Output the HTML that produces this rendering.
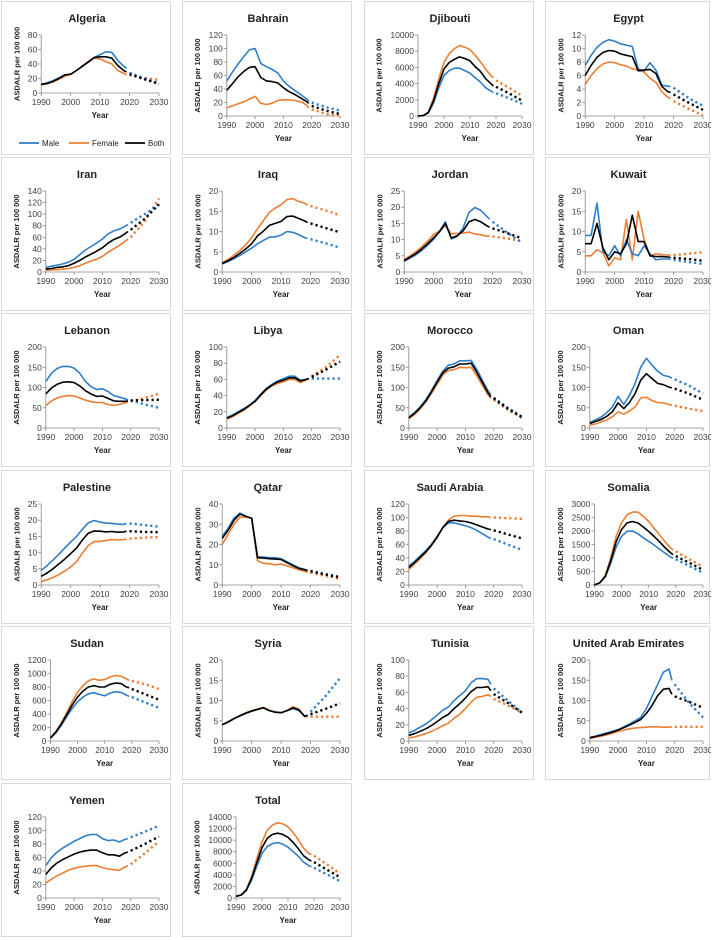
<!DOCTYPE html>
<html><head><meta charset="utf-8">
<style>
body{margin:0;width:716px;height:940px;background:#fff;position:relative;overflow:hidden;font-family:"Liberation Sans",sans-serif}
.panel{position:absolute;background:#fff;border:1px solid #d9d9d9;box-sizing:border-box}
.panel svg{position:absolute;left:0;top:0}
</style></head>
<body>
<script>
const countries=["Algeria","Bahrain","Djibouti","Egypt","Iran","Iraq","Jordan","Kuwait","Lebanon","Libya","Morocco","Oman","Palestine","Qatar","Saudi Arabia","Somalia","Sudan","Syria","Tunisia","United Arab Emirates","Yemen","Total"];
const histYears=[1990,1992,1994,1996,1998,2000,2002,2004,2006,2008,2010,2012,2014,2016,2018,2019];
const projYears=[2020,2025,2030];
const yMax=[80,120,10000,12,140,20,25,20,200,100,200,200,25,40,120,3000,1200,20,100,200,120,14000];
const yStep=[20,20,2000,2,20,5,5,5,50,20,50,50,5,10,20,500,200,5,20,50,20,2000];
const xTicks=[1990,2000,2010,2020,2030];
const maleHist=[
[12,14,17,21,25,26,31,37,43,49,53,57,56,45,37,34],
[52,65,77,88,98,100,78,73,69,64,52,44,38,32,26,22],
[0,50,400,1600,3500,5000,5600,5900,5900,5600,5300,4700,4200,3500,3100,2900],
[7.5,9,10.2,10.9,11.3,11.1,10.7,10.5,10.3,7,6.7,7.9,6.8,4.6,4.4,4.4],
[8,10,12,14,17,22,30,38,44,50,57,66,71,74,79,82],
[2,2.6,3.3,4.1,5,5.9,7,7.8,8.6,8.7,9.1,10,9.8,9.2,8.5,8.3],
[3.3,4.3,5.3,6.7,8.3,10.1,12.6,15.5,10.2,11,13.6,18.4,19.9,19,17.2,16.3],
[9,9,17,5,4,6.5,4,8,4.5,4,6.5,4.5,3,3.2,3.2,3.1],
[115,135,147,152,152,148,135,115,102,95,97,90,80,76,72,70],
[13,16,20,24,28,34,42,49,54,58,61,64,64,59,60,61],
[27,38,52,70,92,117,140,155,158,166,166,167,145,118,92,82],
[14,20,27,38,52,78,58,80,110,150,172,155,140,130,127,123],
[4.5,6,7.7,9.5,11.4,13.3,15,17.2,19.2,19.9,19.4,19.1,19,18.8,18.7,19],
[24,28,33,35.5,34,33,14,13.8,13.5,13.5,13,11.5,10,8.5,7.7,7.3],
[28,35,43,51,60,72,85,92,92,90,88,85,81,76,71,69],
[0,80,300,800,1400,1800,1990,2000,1900,1750,1620,1480,1330,1180,1040,990],
[40,120,230,360,480,580,650,700,715,690,670,710,730,720,680,660],
[4,4.7,5.5,6.2,6.8,7.3,7.8,8.2,7.5,7.1,7,7.5,8,7.5,6.1,6.5],
[10,13,17,21,26,32,38,42,50,56,62,72,77,77,76,70],
[9,12,16,20,24,28,35,42,50,58,80,110,140,170,178,150],
[48,60,68,74,79,84,88,92,94,94,88,85,86,83,87,88],
[300,500,1300,3100,5500,7700,8900,9400,9600,9300,8800,8000,7200,6200,5600,5400]];
const femaleHist=[
[11,13,15,19,23,26,31,37,42,48,47,43,40,31,27,25],
[12,15,18,21,25,29,19,17,19,23,24,24,23,21,17,12],
[0,50,500,2200,4600,6600,7700,8300,8700,8500,8200,7500,6700,5800,5000,4700],
[4.7,6,7,7.7,8,7.9,7.6,7.4,7.0,6.8,6.5,5.6,5.0,3.6,2.8,2.6],
[3,4,4,5,6,8,11,15,19,22,27,34,40,46,53,57],
[2.3,3.1,4.1,5.3,6.7,8.5,10.7,12.7,14.7,15.8,16.6,17.9,18.1,17.4,17,16.5],
[3.9,5,6.3,7.8,9.6,11.6,12.7,14.3,11.8,11.9,12,12.3,11.7,11.5,11,11.2],
[4,4,5.5,4.8,1.5,3.5,3,13,3,15,8,4,4.5,4.3,4.2,4.2],
[55,67,74,78,80,79,74,69,65,63,63,58,56,58,62,64],
[11,14,18,22,27,33,40,47,52,55,57,60,60,56,59,61],
[23,33,47,64,85,108,131,142,144,150,149,150,130,105,82,73],
[7,10,15,20,28,40,34,42,52,74,76,68,63,62,58,56],
[1,1.6,2.3,3.2,4.3,5.6,7.2,9.8,12.2,13.4,13.5,13.7,14,13.9,14,14.2],
[20,25,30,33.5,33.5,33,12,10.7,10.5,10,10.3,9.5,8.5,7.5,6.8,6.3],
[23,31,39,48,58,70,85,96,102,103,103,102,102,101,101,100],
[0,80,350,1000,1800,2300,2600,2700,2700,2550,2350,2100,1850,1600,1380,1300],
[50,140,270,420,580,720,820,890,920,900,910,950,970,960,920,900],
[4,4.8,5.6,6.3,7,7.5,7.9,8.3,7.6,7.2,7,7.5,8.5,7.9,6,6.1],
[4,5,7,9,12,15,19,22,28,33,40,48,54,55,57,55],
[6,9,12,15,19,24,27,30,32,33,34,35,35,34,34,35],
[22,28,33,37,41,44,46,47,48,48,45,43,42,41,46,48],
[300,550,1500,3700,6800,9700,11700,12600,13000,12800,12300,11300,10000,8600,7700,7500]];
const bothHist=[
[12,13,16,20,25,26,31,37,43,49,50,50,48,38,31,29],
[38,48,58,66,72,73,57,52,51,49,42,36,32,27,22,19],
[0,50,450,1900,4000,5800,6600,7000,7300,7100,6800,6100,5500,4600,4000,3700],
[6,7.5,8.7,9.4,9.7,9.6,9.2,9.0,8.8,6.7,6.8,6.9,6.3,4.4,3.6,3.5],
[5,6,8,9,11,15,20,26,31,36,42,50,56,60,66,70],
[2.1,2.8,3.6,4.6,5.7,7,8.9,10.1,11.5,12,12.5,13.7,13.8,13.2,12.6,12.2],
[3.5,4.6,5.7,7.2,8.8,10.6,12.4,15,10.5,11.2,12.7,15.5,16.2,15.5,14.3,13.8],
[7,7,12,6,3,5,4.5,7,14,7.5,7.5,4,3.8,3.8,3.7,3.6],
[84,99,108,113,114,112,104,92,84,78,79,73,67,66,66,67],
[12,15,19,23,28,33,41,48,53,57,59,62,62,58,60,61],
[25,36,50,67,89,113,136,148,151,158,158,160,138,112,87,77],
[11,16,21,29,40,62,48,63,85,118,134,122,110,107,101,99],
[2.7,3.7,5,6.5,8,9.7,11.4,13.9,16,16.7,16.6,16.4,16.5,16.3,16.4,16.6],
[23,27,32,35,34,33,13.5,13.3,13,12.8,12.6,11,9.6,8.2,7.5,7],
[26,33,41,49,59,71,85,94,96,95,94,92,89,86,83,82],
[0,80,320,900,1600,2050,2300,2350,2300,2150,1980,1800,1600,1380,1200,1120],
[45,130,250,390,530,650,740,800,820,800,800,840,860,850,800,790],
[4,4.7,5.5,6.2,6.9,7.4,7.8,8.2,7.5,7.1,7,7.5,8.2,7.7,6.1,6.3],
[7,9,12,15,19,24,29,33,40,46,53,61,66,66,67,62],
[8,11,14,18,22,27,33,39,46,53,68,88,112,128,130,115],
[35,45,52,57,61,65,68,70,71,71,67,64,64,62,67,68],
[300,520,1400,3400,6100,8700,10300,11000,11200,11000,10500,9600,8500,7300,6600,6400]];
const maleProj=[[28,20,12],[20,13,8],[2800,2200,1500],[4.2,2.7,1.5],[85,100,117],[8.1,7.1,6],[15.5,12.2,9],[3,2.5,2],[68,58,50],[61,61,61],[75,50,28],[120,105,85],[19,18.5,18],[7,5.5,4],[68,60,52],[950,700,450],[650,570,490],[7.2,11,15.5],[65,50,35],[140,95,58],[90,98,107],[5200,4100,2900]];
const femaleProj=[[25,21,18],[10,3,1],[4400,3500,2500],[2.2,1.1,0.1],[60,88,127],[16.3,15.2,14],[11,10.3,9.5],[4.2,4.5,4.9],[66,74,85],[64,75,90],[70,45,25],[55,48,42],[14.3,14.6,14.8],[6,4.5,3],[100,99,98],[1250,950,680],[890,840,770],[6,6,6],[52,44,35],[35,35,35],[50,66,84],[7300,5800,4200]];
const bothProj=[[26,19,13],[15,8,3],[3600,2800,1900],[3.2,2.0,0.9],[73,92,117],[12,10.9,9.8],[13.5,12,10.4],[3.5,3.2,2.8],[68,69,70],[63,72,82],[73,48,27],[97,85,70],[16.6,16.4,16.3],[6.8,5.2,3.8],[81,75,69],[1070,820,560],[770,690,610],[6.6,7.9,9.3],[58,47,35],[110,97,82],[70,80,91],[6200,4900,3600]];

const NS="http://www.w3.org/2000/svg";
const colX=[1,182,364,545], rowY=[1,157,313,470,626,783];
const COL={m:"#2e7ec9",f:"#ed7d31",b:"#000"};
function mk(tag,attrs,parent){const e=document.createElementNS(NS,tag);for(const k in attrs)e.setAttribute(k,attrs[k]);parent.appendChild(e);return e;}
function slug(s){return s.toLowerCase().replace(/\s+/g,'-');}

countries.forEach((name,i)=>{
  const W=i%4===3?165:170, H=154;
  const div=document.createElement('div');
  div.className='panel';
  div.style.left=colX[i%4]+'px';div.style.top=rowY[Math.floor(i/4)]+'px';
  div.style.width=W+'px';div.style.height=H+'px';
  
  
  document.body.appendChild(div);
  const svg=mk('svg',{width:W,height:H},div);
  const maxLabel=String(yMax[i]).length;
  const left=30+4.6*maxLabel, right=157;
  const top=33, bottom=(i===0?91:114);
  const xs=y=>left+(y-1990)/40*(right-left);
  const ys=v=>bottom-v/yMax[i]*(bottom-top);
  const t=mk('text',{x:(W)/2,y:20,'text-anchor':'middle','font-size':'11','font-weight':'bold',fill:'#222'},svg);
  t.textContent=name;
  
  
  const ax=mk('path',{d:`M${left},${top}V${bottom}H${right}`,stroke:'#888',fill:'none','stroke-width':'0.8'},svg);
  
  
  for(let v=0;v<=yMax[i]+1e-9;v+=yStep[i]){
    mk('line',{x1:left-3,x2:left,y1:ys(v),y2:ys(v),stroke:'#888','stroke-width':'0.8'},svg);
    const tl=mk('text',{x:left-4,y:ys(v)+3,'text-anchor':'end','font-size':'8.5',fill:'#404040'},svg);
    tl.textContent=String(v);
    
    
  }
  xTicks.forEach(y=>{
    mk('line',{x1:xs(y),x2:xs(y),y1:bottom,y2:bottom+3,stroke:'#888','stroke-width':'0.8'},svg);
    const tl=mk('text',{x:xs(y),y:bottom+12,'text-anchor':'middle','font-size':'8.5',fill:'#404040'},svg);
    tl.textContent=String(y);
    
    
  });
  const xt=mk('text',{x:(left+right)/2,y:bottom+25,'text-anchor':'middle','font-size':'8','font-weight':'bold',fill:'#222'},svg);
  xt.textContent='Year';
  
  
  const ylx=left-6-4.9*maxLabel-6, ylc=(top+bottom)/2;
  const yt=mk('text',{x:ylx,y:ylc,'text-anchor':'middle','font-size':'7.5','font-weight':'bold',fill:'#222',transform:`rotate(-90 ${ylx} ${ylc})`},svg);
  yt.textContent='ASDALR per 100 000';
  
  
  const series=[['f',femaleHist[i],femaleProj[i],'female'],['m',maleHist[i],maleProj[i],'male'],['b',bothHist[i],bothProj[i],'both']];
  series.forEach(([k,h,p,lab])=>{
    const d=h.map((v,j)=>(j?'L':'M')+xs(histYears[j]).toFixed(1)+','+ys(v).toFixed(1)).join('');
    const ln=mk('path',{d,stroke:COL[k],fill:'none','stroke-width':'1.6','stroke-linejoin':'round'},svg);
    
    
    const dp=p.map((v,j)=>(j?'L':'M')+xs(projYears[j]).toFixed(1)+','+ys(v).toFixed(1)).join('');
    const pl=mk('path',{d:dp,stroke:COL[k],fill:'none','stroke-width':'2.4','stroke-dasharray':'2.2 3'},svg);
    
    
  });
  if(i===0){
    const items=[['m','Male',17],['f','Female',67],['b','Both',123]];
    items.forEach(([k,lab,x])=>{
      const g=mk('g',{},svg);
      
      
      mk('line',{x1:x,x2:x+20,y1:141,y2:141,stroke:COL[k],'stroke-width':'1.8'},g);
      const tx=mk('text',{x:x+23,y:144,'font-size':'8',fill:'#222'},g);
      tx.textContent=lab;
    });
  }
});
</script>
</body></html>
